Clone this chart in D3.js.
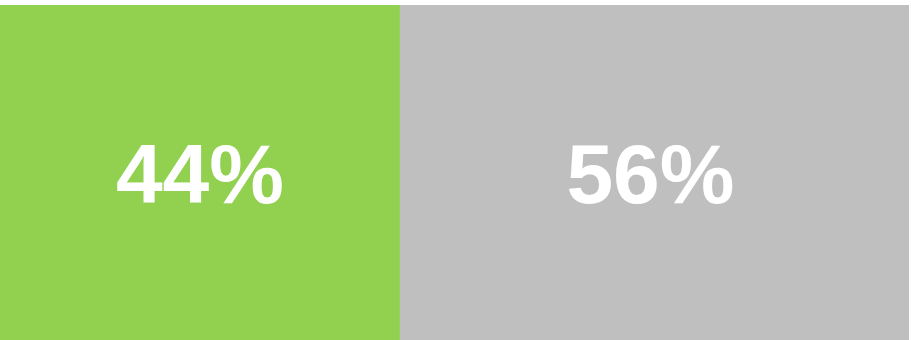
<!DOCTYPE html>
<html><head><meta charset="utf-8">
<script src="https://cdn.jsdelivr.net/npm/d3@7"></script>
<style>html,body{margin:0;padding:0;background:#fff;}svg{display:block;}</style>
</head><body>
<svg id="chart" width="911" height="340"></svg>
<script>
const categories = ["A", "B"];
const values = [44, 56];
const labels = ["44%", "56%"];
const colors = ["#92D050", "#BFBFBF"];

const svg = d3.select("#chart");
const x = d3.scaleLinear().domain([0, d3.sum(values)]).range([0, 909]);
const y = d3.scaleBand().domain(["row"]).range([5, 340]).padding(0);

let acc = 0;
const segs = values.map((v, i) => { const s = {cat: categories[i], v, x0: acc, x1: acc + v, label: labels[i], color: colors[i]}; acc += v; return s; });

svg.selectAll("rect").data(segs).enter().append("rect")
  .attr("x", d => x(d.x0))
  .attr("y", y("row"))
  .attr("width", d => x(d.x1) - x(d.x0))
  .attr("height", y.bandwidth())
  .attr("fill", d => d.color);

svg.selectAll("text").data(segs).enter().append("text")
  .attr("x", d => (x(d.x0) + x(d.x1)) / 2 - (d.x0 > 0 ? 4 : 0))
  .attr("y", 203)
  .attr("text-anchor", "middle")
  .attr("font-family", "Liberation Sans, Arial, sans-serif")
  .attr("font-weight", "bold")
  .attr("font-size", 84)
  .attr("fill", "#fff")
  .text(d => d.label);
</script>
</body></html>
